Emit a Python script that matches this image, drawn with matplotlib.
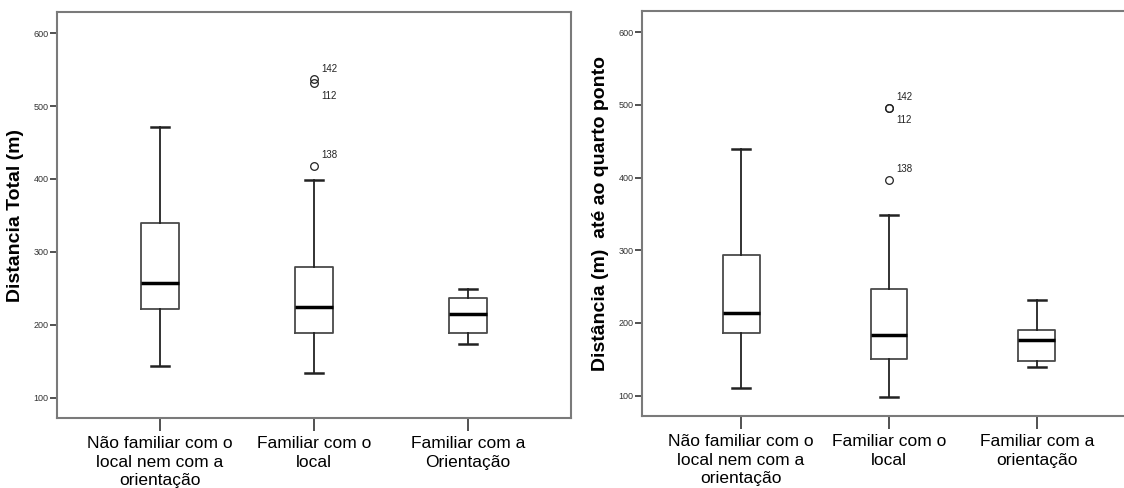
import matplotlib
matplotlib.use("Agg")
import matplotlib.pyplot as plt

plt.rcParams['font.family'] = ['Liberation Sans', 'DejaVu Sans']

# ---- data ----
cats_left = ["Não familiar com o\nlocal nem com a\norientação", "Familiar com o\nlocal", "Familiar com a\nOrientação"]
cats_right = ["Não familiar com o\nlocal nem com a\norientação", "Familiar com o\nlocal", "Familiar com a\norientação"]

left_whislo = [144, 134, 174]
left_q1 = [221, 189, 189]
left_med = [257, 224, 215]
left_q3 = [340, 279, 236]
left_whishi = [471, 398, 249]
left_fliers = [[], [537, 531, 418], []]
left_flier_ids = [[], ["142", "112", "138"], []]

right_whislo = [110, 98, 139]
right_q1 = [186, 151, 148]
right_med = [214, 184, 176]
right_q3 = [294, 246, 190]
right_whishi = [439, 349, 231]
right_fliers = [[], [496, 496, 397], []]
right_flier_ids = [[], ["142", "112", "138"], []]

yticks = [100, 200, 300, 400, 500, 600]

W, H = 1124, 488
fig = plt.figure(figsize=(W / 100, H / 100), dpi=100)

def panel(rect, cats, wlo, q1, med, q3, whi, fl, ids, ylabel):
    ax = fig.add_axes(rect)
    stats = []
    for i in range(len(cats)):
        stats.append(dict(med=med[i], q1=q1[i], q3=q3[i], whislo=wlo[i], whishi=whi[i], fliers=fl[i]))
    ax.bxp(stats, positions=[1, 2, 3], widths=0.25, showfliers=True,
           boxprops=dict(color='#4a4a4a', linewidth=1.3),
           whiskerprops=dict(color='#222222', linewidth=1.3),
           capprops=dict(color='#222222', linewidth=1.8),
           medianprops=dict(color='black', linewidth=2.5),
           flierprops=dict(marker='o', markerfacecolor='none', markeredgecolor='#222222',
                           markersize=5.5, markeredgewidth=0.9, linestyle='none'),
           capwidths=0.12)
    for i in range(len(cats)):
        vals = fl[i]
        labs = ids[i]
        for j, (v, lab) in enumerate(zip(vals, labs)):
            if lab == "112":
                off = (5, -9)
            else:
                off = (5, 4)
            ax.annotate(lab, xy=(i + 1, v), xytext=off, textcoords='offset points',
                        fontsize=7, color='#222222', va='bottom' if off[1] > 0 else 'center', ha='left')
    ax.set_xlim(0.33, 3.67)
    ax.set_ylim(72, 629)
    ax.set_yticks(yticks)
    ax.set_yticklabels([str(t) for t in yticks], fontsize=6.5, color='#333333')
    ax.set_xticks([1, 2, 3])
    ax.set_xticklabels(cats, fontsize=12.5, linespacing=1.3)
    ax.tick_params(axis='y', length=5, width=1.2, color='#333333', pad=1)
    ax.tick_params(axis='x', length=9, width=1.2, color='#333333', pad=4)
    for s in ax.spines.values():
        s.set_color('#7a7a7a')
        s.set_linewidth(1.5)
    ax.set_ylabel(ylabel, fontsize=14, fontweight='bold', labelpad=7)
    return ax

ax1 = panel([57 / W, 1 - 418 / H, 514 / W, 406 / H], cats_left,
            left_whislo, left_q1, left_med, left_q3, left_whishi, left_fliers, left_flier_ids,
            "Distancia Total (m)")
ax2 = panel([642 / W, 1 - 416 / H, 494 / W, 405 / H], cats_right,
            right_whislo, right_q1, right_med, right_q3, right_whishi, right_fliers, right_flier_ids,
            "Distância (m)  até ao quarto ponto")

fig.savefig("out.png", dpi=100)
